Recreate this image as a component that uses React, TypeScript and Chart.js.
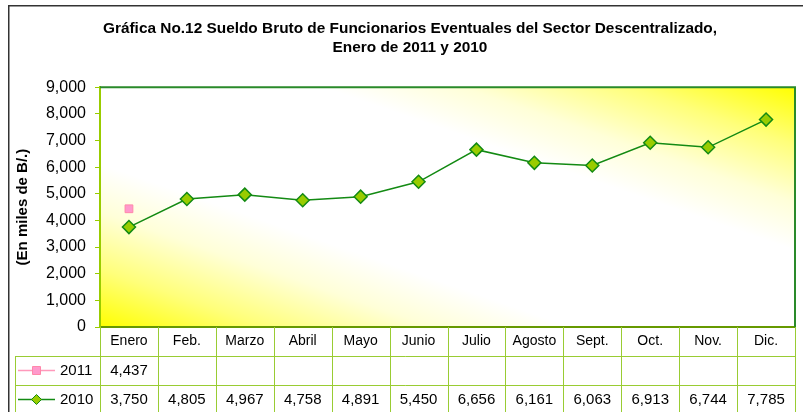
import React, { useEffect, useRef } from "react";
import { Chart, registerables } from "chart.js";

Chart.register(...registerables);

const titleLines = [
  "Gráfica No.12 Sueldo Bruto de Funcionarios Eventuales del Sector Descentralizado,",
  "Enero de 2011 y 2010",
];
const yAxisTitle = "(En miles de B/.)";
const months = ["Enero", "Feb.", "Marzo", "Abril", "Mayo", "Junio", "Julio", "Agosto", "Sept.", "Oct.", "Nov.", "Dic."];
const seriesNames = ["2011", "2010"];
const values2011: (number | null)[] = [4437, null, null, null, null, null, null, null, null, null, null, null];
const values2010: number[] = [3750, 4805, 4967, 4758, 4891, 5450, 6656, 6161, 6063, 6913, 6744, 7785];
const yMin = 0;
const yMax = 9000;
const yStep = 1000;

const FONT = "'Liberation Sans', Arial, sans-serif";
const TABLE_LINE = "#99cc33";
const fmt = (v: number) => v.toLocaleString("en-US");

const bgPlugin = {
  id: "bgPlugin",
  beforeDraw(chart: any) {
    const { ctx, chartArea } = chart;
    const { left, top, right, bottom } = chartArea;
    ctx.save();
    // outer chart border
    ctx.strokeStyle = "#333333";
    ctx.lineWidth = 1.5;
    ctx.beginPath();
    ctx.moveTo(8.75, chart.height + 2);
    ctx.lineTo(8.75, 5.75);
    ctx.lineTo(chart.width + 2, 5.75);
    ctx.stroke();
    // plot area diagonal gradient (in unit square space)
    ctx.translate(left, top);
    ctx.scale(right - left, bottom - top);
    const g = ctx.createLinearGradient(1, 0, 0, 1);
    g.addColorStop(0, "#ffff00");
    g.addColorStop(0.12, "#ffff7a");
    g.addColorStop(0.24, "#ffffd8");
    g.addColorStop(0.34, "#ffffff");
    g.addColorStop(0.66, "#ffffff");
    g.addColorStop(0.76, "#ffffd8");
    g.addColorStop(0.88, "#ffff7a");
    g.addColorStop(1, "#ffff00");
    ctx.fillStyle = g;
    ctx.fillRect(0, 0, 1, 1);
    ctx.restore();
  },
  beforeDatasetsDraw(chart: any) {
    const { ctx, chartArea } = chart;
    const { left, top, right } = chartArea;
    ctx.save();
    ctx.strokeStyle = "#2a8a2a";
    ctx.lineWidth = 2;
    ctx.beginPath();
    ctx.moveTo(left, top);
    ctx.lineTo(right, top);
    ctx.lineTo(right, chartArea.bottom);
    ctx.stroke();
    ctx.restore();
  },
};

const tablePlugin = {
  id: "tablePlugin",
  afterDraw(chart: any) {
    const { ctx, chartArea } = chart;
    const xs = chart.scales.x;
    const n = months.length;
    const colW = (chartArea.right - chartArea.left) / n;
    const rowH = 29;
    const y0 = chartArea.bottom;
    const yEnd = chart.height + 2;
    const legendLeft = 15.5;
    ctx.save();
    ctx.strokeStyle = TABLE_LINE;
    ctx.lineWidth = 1;
    ctx.beginPath();
    for (let i = 0; i <= n; i++) {
      const x = Math.round(xs.getPixelForTick(Math.min(i, n - 1)) + (i === n ? colW / 2 : -colW / 2)) + 0.5;
      ctx.moveTo(x, y0);
      ctx.lineTo(x, yEnd);
    }
    for (let r = 1; r <= 2; r++) {
      const y = Math.round(y0 + rowH * r) + 0.5;
      ctx.moveTo(legendLeft, y);
      ctx.lineTo(chartArea.right, y);
    }
    ctx.moveTo(legendLeft, y0 + rowH);
    ctx.lineTo(legendLeft, yEnd);
    ctx.stroke();

    ctx.fillStyle = "#000";
    ctx.font = `15px ${FONT}`;
    ctx.textAlign = "center";
    ctx.textBaseline = "middle";
    const rows = [values2011, values2010];
    rows.forEach((vals, r) => {
      const yc = y0 + rowH * (r + 1) + rowH / 2;
      vals.forEach((v, i) => {
        if (v == null) return;
        ctx.fillText(fmt(v), xs.getPixelForTick(i), yc);
      });
      // legend key
      const ds = chart.data.datasets[r];
      ctx.strokeStyle = ds.borderColor;
      ctx.lineWidth = 1.5;
      ctx.beginPath();
      ctx.moveTo(18, yc);
      ctx.lineTo(55, yc);
      ctx.stroke();
      ctx.fillStyle = ds.backgroundColor;
      ctx.strokeStyle = ds.pointBorderColor;
      ctx.lineWidth = 1;
      ctx.beginPath();
      if (r === 0) {
        ctx.rect(32.5, yc - 4, 8, 8);
      } else {
        ctx.moveTo(36.5, yc - 5);
        ctx.lineTo(41.5, yc);
        ctx.lineTo(36.5, yc + 5);
        ctx.lineTo(31.5, yc);
        ctx.closePath();
      }
      ctx.fill();
      ctx.stroke();
      ctx.fillStyle = "#000";
      ctx.textAlign = "left";
      ctx.fillText(seriesNames[r], 60, yc);
      ctx.textAlign = "center";
    });
    ctx.restore();
  },
};

export default function App() {
  const ref = useRef<HTMLCanvasElement | null>(null);
  useEffect(() => {
    if (!ref.current) return;
    const chart = new Chart(ref.current, {
      type: "line",
      data: {
        labels: months,
        datasets: [
          {
            label: seriesNames[0],
            data: values2011,
            borderColor: "#ff99bb",
            backgroundColor: "#ff99cc",
            pointBorderColor: "#ff88aa",
            pointBackgroundColor: "#ff99cc",
            pointStyle: "rect",
            pointRadius: 5.5,
            pointBorderWidth: 1,
            showLine: false,
          },
          {
            label: seriesNames[1],
            data: values2010,
            borderColor: "#138a13",
            borderWidth: 1.5,
            backgroundColor: "#99cc00",
            pointBorderColor: "#138a13",
            pointBackgroundColor: "#99cc00",
            pointStyle: "rectRot",
            pointRadius: 6.5,
            pointBorderWidth: 1.5,
            tension: 0,
          },
        ],
      },
      options: {
        responsive: false,
        animation: false,
        events: [],
        layout: { padding: { left: 18, right: 1, top: 0, bottom: 0 } },
        plugins: {
          legend: { display: false },
          tooltip: { enabled: false },
          title: {
            display: true,
            text: titleLines,
            color: "#000",
            font: { family: FONT, size: 15.4, weight: "bold", lineHeight: 1.24 },
            padding: { top: 19.5, bottom: 29.5 },
          },
        },
        scales: {
          x: {
            type: "category",
            offset: true,
            grid: { display: false, drawTicks: false },
            border: { display: true, color: "#669900", width: 2 },
            ticks: {
              color: "#000",
              font: { family: FONT, size: 14 },
              padding: 6,
              maxRotation: 0,
              autoSkip: false,
            },
            afterFit: (s: any) => {
              s.height = 85;
            },
          },
          y: {
            min: yMin,
            max: yMax,
            grid: { display: true, drawOnChartArea: false, drawTicks: true, tickLength: 5, color: "#99cc00" },
            border: { display: true, color: "#99cc00", width: 2 },
            ticks: {
              stepSize: yStep,
              color: "#000",
              font: { family: FONT, size: 16 },
              padding: 9,
              callback: (v: any) => fmt(Number(v)),
            },
            title: {
              display: true,
              text: yAxisTitle,
              color: "#000",
              font: { family: FONT, size: 15, weight: "bold" },
              padding: { top: -4.5, bottom: 0 },
            },
            afterFit: (s: any) => {
              s.width = 82;
            },
          },
        },
      },
      plugins: [bgPlugin, tablePlugin],
    });
    return () => chart.destroy();
  }, []);
  return (
    <div style={{ position: "fixed", left: 0, top: 0, width: 803, height: 412, background: "#fff" }}>
      <canvas ref={ref} width={803} height={412} style={{ display: "block" }} />
    </div>
  );
}
